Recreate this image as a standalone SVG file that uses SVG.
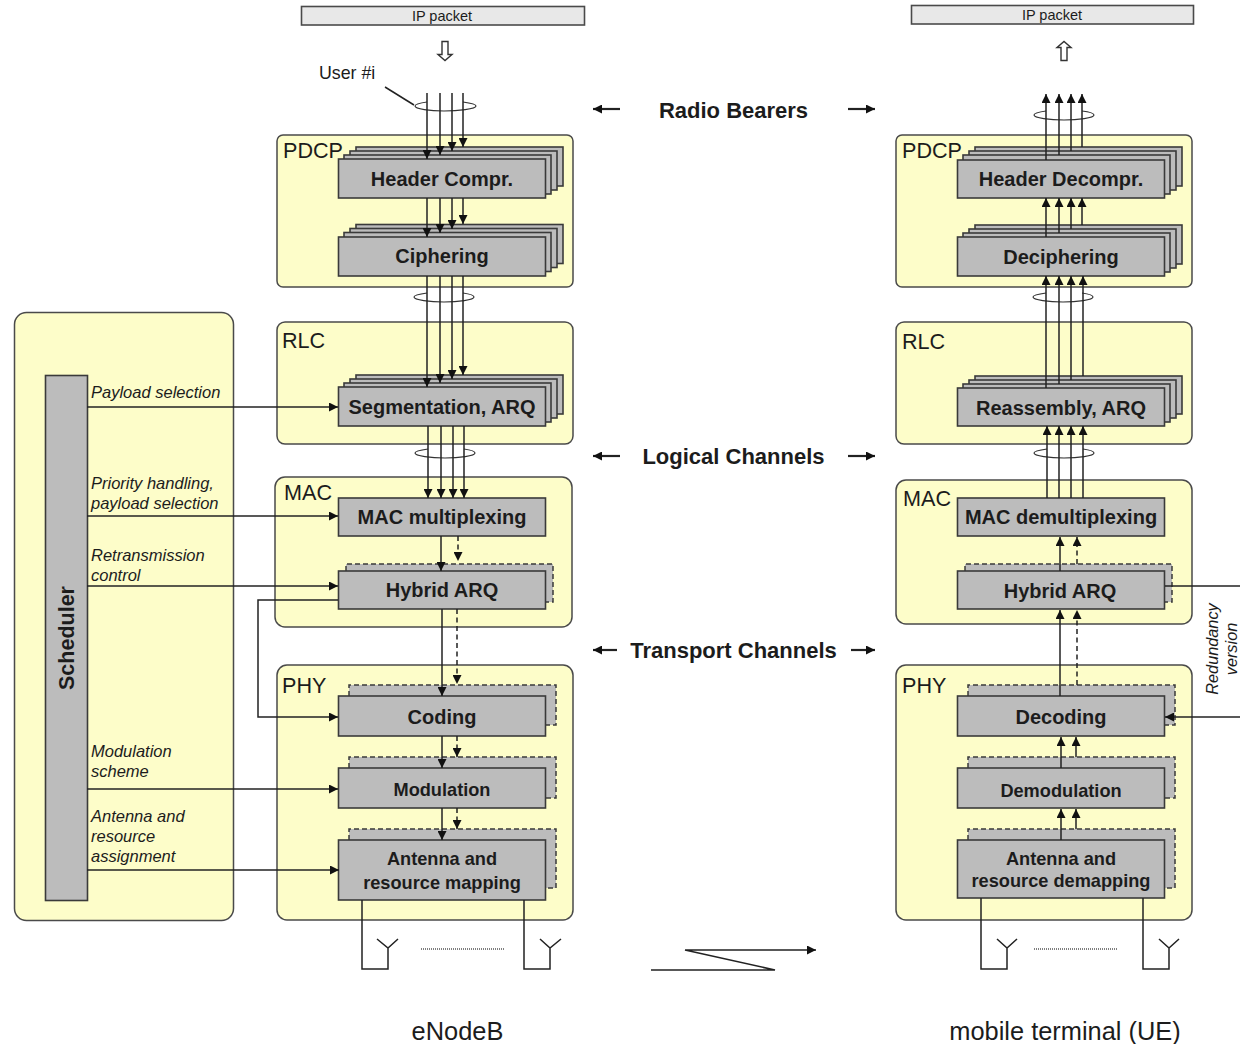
<svg xmlns="http://www.w3.org/2000/svg" width="1240" height="1044" viewBox="0 0 1240 1044">
<style>
text{font-family:"Liberation Sans",Arial,sans-serif;fill:#1c1c1c}
.layer{fill:#fdfdc9;stroke:#4a4a4a;stroke-width:1.5}
.b{fill:#bcbcbc;stroke:#3a3a3a;stroke-width:1.6}
.d{fill:#bcbcbc;stroke:none}
.de{fill:none;stroke:#3a3a3a;stroke-width:1.5;stroke-dasharray:5 3}
.ip{fill:#e8e8e8;stroke:#4a4a4a;stroke-width:1.6}
.t{font-size:20px;font-weight:bold;text-anchor:middle}
.t2{font-size:18.2px;font-weight:bold;text-anchor:middle}
.l{font-size:21.6px}
.i{font-size:16.5px;font-style:italic}
.m{font-size:22px;font-weight:bold;text-anchor:middle}
.c{fill:none;stroke:#222;stroke-width:1.5}
.w{stroke-width:2.2}
.a{marker-end:url(#h)}
.da{stroke-dasharray:5 3.5}
.e{fill:none;stroke:#333;stroke-width:1.2}
.ar{fill:#fff;stroke:#333;stroke-width:1.4}
</style>
<defs>
<marker id="h" markerUnits="userSpaceOnUse" markerWidth="10" markerHeight="9" refX="9" refY="4.5" orient="auto"><path d="M0 0L9 4.5L0 9Z" fill="#111"/></marker>
</defs>

<g id="scheduler">
<rect class="layer" x="14.500" y="312.500" width="219" height="608" rx="12"/>
<rect class="b" x="45.500" y="375.500" width="42" height="525"/>
<text transform="translate(73.500 638) rotate(-90)" style="font-size:21.500px;font-weight:bold;text-anchor:middle">Scheduler</text>
<text class="i" x="91" y="398">Payload selection</text>
<text class="i" x="91" y="489">Priority handling,</text>
<text class="i" x="91" y="509">payload selection</text>
<text class="i" x="91" y="561">Retransmission</text>
<text class="i" x="91" y="581">control</text>
<text class="i" x="91" y="757">Modulation</text>
<text class="i" x="91" y="777">scheme</text>
<text class="i" x="91" y="822">Antenna and</text>
<text class="i" x="91" y="842">resource</text>
<text class="i" x="91" y="862">assignment</text>
</g>

<g id="ip-left"><rect class="ip" x="301.500" y="6.500" width="283" height="18.500"/><text x="442" y="21" text-anchor="middle" style="font-size:14.500px">IP packet</text></g>
<g id="ip-right"><rect class="ip" x="911.500" y="5.500" width="282" height="18.500"/><text x="1052" y="20" text-anchor="middle" style="font-size:14.500px">IP packet</text></g>
<path id="down-arrow" class="ar" d="M442 41.500h6v13h4l-7 6l-7-6h4z"/>
<path id="up-arrow" class="ar" d="M1061 60.500h6v-13h4l-7-6l-7 6h4z"/>
<text id="user-label" x="319" y="79" style="font-size:17.800px">User #i</text>

<g id="enb-pdcp">
<rect class="layer" x="277" y="135" width="296" height="152" rx="6"/>
<text class="l" x="283" y="158">PDCP</text>
<rect class="b" x="356" y="147" width="207" height="39"/><rect class="b" x="350" y="151" width="207" height="39"/><rect class="b" x="344" y="155" width="207" height="39"/><rect class="b" x="338.500" y="159" width="207" height="39"/>
<text class="t" x="442" y="186">Header Compr.</text>
<rect class="b" x="356" y="224.500" width="207" height="39"/><rect class="b" x="350" y="228.500" width="207" height="39"/><rect class="b" x="344" y="232.500" width="207" height="39"/><rect class="b" x="338.500" y="237" width="207" height="39"/>
<text class="t" x="442" y="263">Ciphering</text>
</g>
<g id="enb-rlc">
<rect class="layer" x="277" y="322" width="296" height="122" rx="8"/>
<text class="l" x="282" y="348">RLC</text>
<rect class="b" x="356" y="375" width="207" height="39"/><rect class="b" x="350" y="379" width="207" height="39"/><rect class="b" x="344" y="383" width="207" height="39"/><rect class="b" x="338.500" y="387" width="207" height="39"/>
<text class="t" x="442" y="414">Segmentation, ARQ</text>
</g>
<g id="enb-mac">
<rect class="layer" x="275" y="477" width="297" height="150" rx="10"/>
<text class="l" x="284" y="500">MAC</text>
<rect class="b" x="338.500" y="498" width="207" height="38"/>
<text class="t" x="442" y="524">MAC multiplexing</text>
<rect class="d" x="346" y="564" width="207" height="38"/><path class="de" d="M346 571V564H553V602H546"/>
<rect class="b" x="338.500" y="571" width="207" height="38"/>
<text class="t" x="442" y="597">Hybrid ARQ</text>
</g>
<g id="enb-phy">
<rect class="layer" x="277" y="665" width="296" height="255" rx="10"/>
<text class="l" x="282" y="693">PHY</text>
<rect class="d" x="349" y="685" width="207" height="40"/><path class="de" d="M349 696V685H556V725H546"/>
<rect class="b" x="338.500" y="696" width="207" height="40"/>
<text class="t" x="442" y="724">Coding</text>
<rect class="d" x="349" y="757" width="207" height="41"/><path class="de" d="M349 768V757H556V798H546"/>
<rect class="b" x="338.500" y="768" width="207" height="40"/>
<text class="t2" x="442" y="796">Modulation</text>
<rect class="d" x="349" y="829" width="207" height="59"/><path class="de" d="M349 840V829H556V888H546"/>
<rect class="b" x="338.500" y="840" width="207" height="60"/>
<text class="t2" x="442" y="865">Antenna and</text>
<text class="t2" x="442" y="889">resource mapping</text>
</g>

<g id="ue-pdcp">
<rect class="layer" x="896" y="135" width="296" height="152" rx="6"/>
<text class="l" x="902" y="158">PDCP</text>
<rect class="b" x="975" y="147" width="207" height="39"/><rect class="b" x="969" y="151" width="207" height="39"/><rect class="b" x="963" y="155" width="207" height="39"/><rect class="b" x="957.500" y="160" width="207" height="38"/>
<text class="t" x="1061" y="186">Header Decompr.</text>
<rect class="b" x="975" y="225" width="207" height="39"/><rect class="b" x="969" y="229" width="207" height="39"/><rect class="b" x="963" y="233" width="207" height="39"/><rect class="b" x="957.500" y="237" width="207" height="39"/>
<text class="t" x="1061" y="264">Deciphering</text>
</g>
<g id="ue-rlc">
<rect class="layer" x="896" y="322" width="296" height="122" rx="8"/>
<text class="l" x="902" y="349">RLC</text>
<rect class="b" x="975" y="376" width="207" height="38"/><rect class="b" x="969" y="380" width="207" height="38"/><rect class="b" x="963" y="384" width="207" height="38"/><rect class="b" x="957.500" y="388" width="207" height="38"/>
<text class="t" x="1061" y="415">Reassembly, ARQ</text>
</g>
<g id="ue-mac">
<rect class="layer" x="896" y="480" width="296" height="144" rx="10"/>
<text class="l" x="903" y="506">MAC</text>
<rect class="b" x="957.500" y="498" width="207" height="38"/>
<text class="t" x="1061" y="524">MAC demultiplexing</text>
<rect class="d" x="965" y="564" width="207" height="38"/><path class="de" d="M965 571V564H1172V602H1165"/>
<rect class="b" x="957.500" y="571" width="207" height="38"/>
<text class="t" x="1060" y="598">Hybrid ARQ</text>
</g>
<g id="ue-phy">
<rect class="layer" x="896" y="665" width="296" height="255" rx="10"/>
<text class="l" x="902" y="693">PHY</text>
<rect class="d" x="968" y="685" width="207" height="40"/><path class="de" d="M968 696V685H1175V725H1165"/>
<rect class="b" x="957.500" y="696" width="207" height="40"/>
<text class="t" x="1061" y="724">Decoding</text>
<rect class="d" x="968" y="757" width="207" height="41"/><path class="de" d="M968 768V757H1175V798H1165"/>
<rect class="b" x="957.500" y="768" width="207" height="40"/>
<text class="t2" x="1061" y="797">Demodulation</text>
<rect class="d" x="968" y="829" width="207" height="59"/><path class="de" d="M968 840V829H1175V888H1165"/>
<rect class="b" x="957.500" y="840" width="207" height="58"/>
<text class="t2" x="1061" y="865">Antenna and</text>
<text class="t2" x="1061" y="887">resource demapping</text>
</g>

<g id="connectors">
<path class="c" d="M385 87L414 105"/>
<path class="e" d="M427 102C420 103 415 104 415 106C415 109 430 111 444 111C458 111 476 109 476 106C476 104 470 103 463 102"/>
<path class="e" d="M427 293C420 294 414 295 414 297C414 300 430 302 444 302C458 302 474 300 474 297C474 295 470 294 463 293"/>
<path class="e" d="M428 449C421 450 415 451 415 453C415 456 431 458 445 458C459 458 475 456 475 453C475 451 471 450 464 449"/>
<path class="e" d="M1046 111C1039 112 1034 113 1034 115C1034 118 1050 120 1064 120C1078 120 1094 118 1094 115C1094 113 1090 112 1082 111"/>
<path class="e" d="M1046 293C1039 294 1033 295 1033 297C1033 300 1049 302 1063 302C1077 302 1093 300 1093 297C1093 295 1089 294 1082 293"/>
<path class="e" d="M1047 449C1040 450 1034 451 1034 453C1034 456 1050 458 1064 458C1078 458 1094 456 1094 453C1094 451 1090 450 1083 449"/>

<path class="c a" d="M427 93V159"/><path class="c a" d="M440 93V155"/><path class="c a" d="M452 93V151"/><path class="c a" d="M463 93V147"/>
<path class="c a" d="M427 198V237"/><path class="c a" d="M440 198V233"/><path class="c a" d="M452 198V229"/><path class="c a" d="M463 198V224"/>
<path class="c a" d="M427 276V387"/><path class="c a" d="M440 276V383"/><path class="c a" d="M452 276V379"/><path class="c a" d="M463 276V375"/>
<path class="c a" d="M428 426V498"/><path class="c a" d="M441 426V498"/><path class="c a" d="M453 426V498"/><path class="c a" d="M464 426V498"/>
<path class="c a" d="M441 536V571"/><path class="c a da" d="M458 536V561"/>
<path class="c a" d="M442 609V696"/><path class="c a da" d="M457 609V684"/>
<path class="c a" d="M442 736V768"/><path class="c a da" d="M457 736V757"/>
<path class="c a" d="M442 808V840"/><path class="c a da" d="M457 808V829"/>

<path class="c a" d="M87 407H338"/>
<path class="c a" d="M87 516H338"/>
<path class="c a" d="M87 586H338"/>
<path class="c a" d="M338 600H258V717H338"/>
<path class="c a" d="M87 789H338"/>
<path class="c a" d="M87 870H339"/>

<path class="c" d="M362 900V969H388V948M377 939L388 948L398 939"/>
<path class="c" d="M524 900V969H550V948M540 939L550 948L561 939"/>
<path d="M421 949H504" stroke="#555" stroke-width="1.500" stroke-dasharray="1 1" fill="none"/>
<path class="c a" d="M651 970H775L685 950H816"/>

<path class="c a" d="M1046 160V94"/><path class="c a" d="M1059 155V94"/><path class="c a" d="M1071 151V94"/><path class="c a" d="M1082 147V94"/>
<path class="c a" d="M1046 237V198"/><path class="c a" d="M1059 233V198"/><path class="c a" d="M1071 229V198"/><path class="c a" d="M1082 225V198"/>
<path class="c a" d="M1046 388V276"/><path class="c a" d="M1059 384V276"/><path class="c a" d="M1071 380V276"/><path class="c a" d="M1083 376V276"/>
<path class="c a" d="M1047 498V426"/><path class="c a" d="M1059 498V426"/><path class="c a" d="M1071 498V426"/><path class="c a" d="M1083 498V426"/>
<path class="c a" d="M1060 571V537"/><path class="c a da" d="M1077 564V537"/>
<path class="c a" d="M1060 696V610"/><path class="c a da" d="M1077 685V610"/>
<path class="c a" d="M1061 768V737"/><path class="c a" d="M1076 757V737"/>
<path class="c a" d="M1061 840V809"/><path class="c a" d="M1076 829V809"/>
<path class="c" d="M1165 586H1240"/>
<path class="c a" d="M1240 717H1165"/>
<path class="c" d="M981 898V969H1007V948M997 939L1007 948L1017 939"/>
<path class="c" d="M1143 898V969H1169V948M1159 939L1169 948L1179 939"/>
<path d="M1034 949H1117" stroke="#555" stroke-width="1.500" stroke-dasharray="1 1" fill="none"/>

<path class="c w a" d="M620 109H593"/><path class="c w a" d="M848 109H875"/>
<path class="c w a" d="M620 456H593"/><path class="c w a" d="M848 456H875"/>
<path class="c w a" d="M617 650H593"/><path class="c w a" d="M851 650H875"/>
</g>

<g id="labels">
<text class="m" x="733.500" y="118">Radio Bearers</text>
<text class="m" x="733.500" y="464">Logical Channels</text>
<text class="m" x="733.500" y="658">Transport Channels</text>
<text transform="translate(1217.500 649) rotate(-90)" class="i" text-anchor="middle" style="font-size:16.300px">Redundancy</text>
<text transform="translate(1236.500 649) rotate(-90)" class="i" text-anchor="middle" style="font-size:16.300px">version</text>
<text x="457.500" y="1040" text-anchor="middle" style="font-size:25.400px">eNodeB</text>
<text x="1065" y="1040" text-anchor="middle" style="font-size:25.400px">mobile terminal (UE)</text>
</g>
</svg>
